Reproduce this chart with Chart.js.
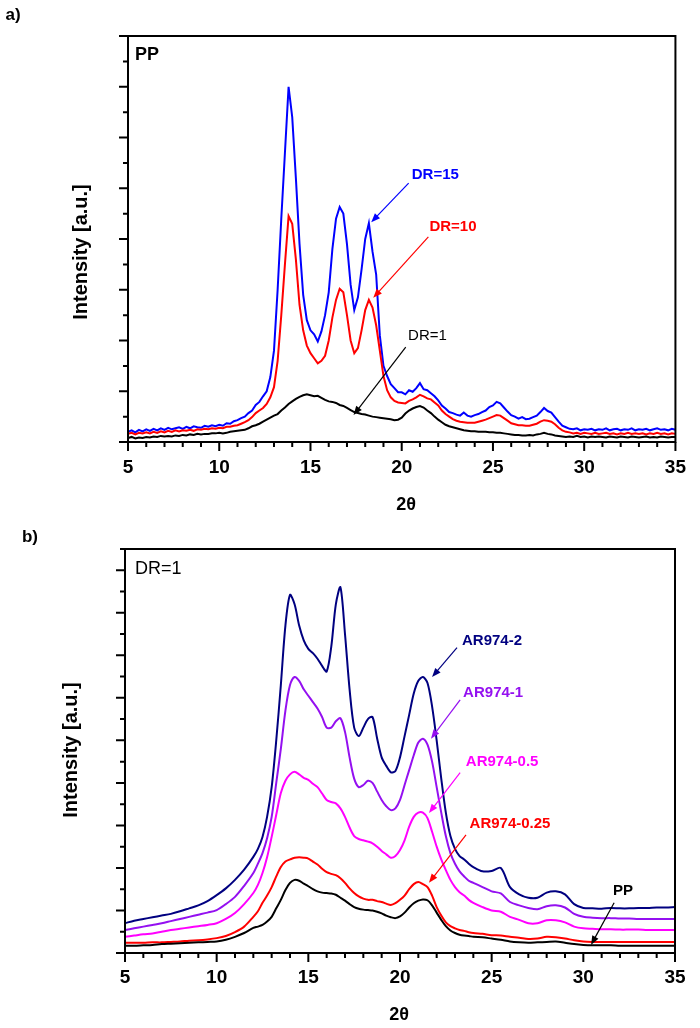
<!DOCTYPE html>
<html>
<head>
<meta charset="utf-8">
<title>XRD patterns</title>
<script src="https://cdn.jsdelivr.net/npm/chart.js@4.4.1/dist/chart.umd.min.js"></script>
<style>
  body { margin: 0; background: #fff; }
  #page { position: relative; width: 700px; height: 1028px; background: #fff; }
  canvas { position: absolute; left: 0; }
</style>
</head>
<body>
<div id="page">
  <canvas id="chartA" width="700" height="520" style="top:0"></canvas>
  <canvas id="chartB" width="700" height="508" style="top:520px"></canvas>
</div>
<script>
var FONT = "'Liberation Sans', Arial, sans-serif";

// ---- panel a) : PP at different draw ratios ----
var anglesA = [
  5, 5.2, 5.4, 5.6, 5.8, 6, 6.2, 6.4, 6.6, 6.8,
  7, 7.2, 7.4, 7.6, 7.8, 8, 8.2, 8.4, 8.6, 8.8,
  9, 9.2, 9.4, 9.6, 9.8, 10, 10.2, 10.4, 10.6, 10.8,
  11, 11.2, 11.4, 11.6, 11.8, 12, 12.2, 12.4, 12.6, 12.8,
  13, 13.2, 13.4, 13.6, 13.8, 14, 14.2, 14.4, 14.6, 14.8,
  15, 15.2, 15.4, 15.6, 15.8, 16, 16.2, 16.4, 16.6, 16.8,
  17, 17.2, 17.4, 17.6, 17.8, 18, 18.2, 18.4, 18.6, 18.8,
  19, 19.2, 19.4, 19.6, 19.8, 20, 20.2, 20.4, 20.6, 20.8,
  21, 21.2, 21.4, 21.6, 21.8, 22, 22.2, 22.4, 22.6, 22.8,
  23, 23.2, 23.4, 23.6, 23.8, 24, 24.2, 24.4, 24.6, 24.8,
  25, 25.2, 25.4, 25.6, 25.8, 26, 26.2, 26.4, 26.6, 26.8,
  27, 27.2, 27.4, 27.6, 27.8, 28, 28.2, 28.4, 28.6, 28.8,
  29, 29.2, 29.4, 29.6, 29.8, 30, 30.2, 30.4, 30.6, 30.8,
  31, 31.2, 31.4, 31.6, 31.8, 32, 32.2, 32.4, 32.6, 32.8,
  33, 33.2, 33.4, 33.6, 33.8, 34, 34.2, 34.4, 34.6, 34.8,
  35
];
var dr15 = [
  0.20, 0.23, 0.19, 0.24, 0.21, 0.25, 0.22, 0.26, 0.23, 0.27,
  0.24, 0.28, 0.25, 0.27, 0.29, 0.26, 0.30, 0.27, 0.31, 0.29,
  0.28, 0.32, 0.30, 0.33, 0.31, 0.34, 0.32, 0.37, 0.36, 0.41,
  0.43, 0.47, 0.50, 0.57, 0.62, 0.73, 0.79, 0.90, 1.00, 1.28,
  1.80, 3.00, 4.40, 5.70, 7.00, 6.40, 5.20, 3.90, 2.90, 2.40,
  2.20, 2.12, 1.98, 2.18, 2.50, 2.95, 3.80, 4.40, 4.63, 4.50,
  3.90, 3.10, 2.60, 2.85, 3.40, 4.00, 4.31, 3.75, 3.30, 2.10,
  1.50, 1.30, 1.14, 1.06, 0.98, 0.98, 0.94, 1.02, 0.99, 1.06,
  1.16, 1.04, 1.02, 0.96, 0.90, 0.82, 0.72, 0.66, 0.59, 0.57,
  0.54, 0.52, 0.58, 0.52, 0.50, 0.53, 0.55, 0.59, 0.62, 0.69,
  0.72, 0.79, 0.76, 0.68, 0.60, 0.53, 0.50, 0.46, 0.49, 0.45,
  0.46, 0.49, 0.52, 0.59, 0.67, 0.61, 0.58, 0.49, 0.40, 0.32,
  0.29, 0.26, 0.25, 0.27, 0.23, 0.25, 0.24, 0.26, 0.23, 0.25,
  0.24, 0.27, 0.23, 0.25, 0.26, 0.23, 0.25, 0.24, 0.27, 0.23,
  0.25, 0.24, 0.26, 0.23, 0.25, 0.27, 0.24, 0.25, 0.23, 0.26,
  0.24
];
var dr10 = [
  0.16, 0.18, 0.15, 0.18, 0.17, 0.19, 0.17, 0.20, 0.18, 0.21,
  0.19, 0.22, 0.20, 0.23, 0.21, 0.23, 0.22, 0.24, 0.22, 0.25,
  0.24, 0.26, 0.25, 0.27, 0.26, 0.28, 0.27, 0.30, 0.30, 0.32,
  0.33, 0.36, 0.39, 0.43, 0.49, 0.57, 0.62, 0.67, 0.75, 0.88,
  1.08, 1.60, 2.50, 3.50, 4.45, 4.30, 3.60, 2.70, 2.20, 1.90,
  1.75, 1.65, 1.55, 1.60, 1.70, 2.00, 2.45, 2.80, 3.02, 2.95,
  2.50, 2.00, 1.75, 1.85, 2.20, 2.60, 2.80, 2.65, 2.30, 1.80,
  1.30, 1.02, 0.88, 0.81, 0.78, 0.77, 0.76, 0.81, 0.84, 0.88,
  0.93, 0.90, 0.86, 0.84, 0.78, 0.72, 0.62, 0.55, 0.50, 0.45,
  0.42, 0.40, 0.39, 0.38, 0.38, 0.38, 0.40, 0.42, 0.44, 0.47,
  0.50, 0.53, 0.52, 0.47, 0.42, 0.37, 0.35, 0.33, 0.33, 0.32,
  0.32, 0.34, 0.36, 0.40, 0.43, 0.42, 0.40, 0.35, 0.28, 0.23,
  0.20, 0.19, 0.17, 0.18, 0.16, 0.18, 0.17, 0.16, 0.18, 0.16,
  0.17, 0.18, 0.16, 0.17, 0.15, 0.17, 0.16, 0.18, 0.16, 0.17,
  0.16, 0.17, 0.15, 0.17, 0.16, 0.18, 0.16, 0.17, 0.15, 0.17,
  0.16
];
var dr1 = [
  0.08, 0.10, 0.07, 0.09, 0.08, 0.10, 0.09, 0.11, 0.10, 0.12,
  0.11, 0.12, 0.11, 0.13, 0.12, 0.14, 0.13, 0.15, 0.14, 0.16,
  0.15, 0.16, 0.16, 0.17, 0.17, 0.18, 0.17, 0.18, 0.20, 0.21,
  0.22, 0.23, 0.24, 0.27, 0.31, 0.33, 0.36, 0.40, 0.44, 0.48,
  0.52, 0.55, 0.62, 0.68, 0.75, 0.80, 0.85, 0.89, 0.92, 0.94,
  0.92, 0.90, 0.91, 0.87, 0.83, 0.80, 0.79, 0.77, 0.73, 0.71,
  0.67, 0.63, 0.59, 0.57, 0.55, 0.54, 0.52, 0.50, 0.49, 0.48,
  0.47, 0.46, 0.45, 0.43, 0.44, 0.48, 0.56, 0.62, 0.66, 0.69,
  0.71, 0.68, 0.62, 0.57, 0.50, 0.44, 0.39, 0.34, 0.31, 0.29,
  0.27, 0.25, 0.23, 0.22, 0.21, 0.21, 0.20, 0.20, 0.20, 0.19,
  0.19, 0.18, 0.18, 0.17, 0.16, 0.15, 0.14, 0.14, 0.13, 0.13,
  0.14, 0.13, 0.15, 0.16, 0.18, 0.16, 0.15, 0.13, 0.12, 0.11,
  0.10, 0.11, 0.10, 0.12, 0.10, 0.11, 0.09, 0.11, 0.10, 0.11,
  0.10, 0.09, 0.11, 0.10, 0.09, 0.11, 0.10, 0.09, 0.11, 0.10,
  0.09, 0.10, 0.11, 0.09, 0.10, 0.09, 0.11, 0.10, 0.09, 0.10,
  0.10
];

// ---- panel b) : DR=1, PP and AR974 loadings ----
var anglesB = [
  5, 5.5, 6, 6.5, 7, 7.5, 8, 8.5, 9, 9.5,
  10, 10.5, 11, 11.5, 12, 12.25, 12.5, 12.75, 13, 13.25,
  13.5, 13.75, 14, 14.25, 14.5, 14.75, 15, 15.25, 15.5, 15.75,
  16, 16.25, 16.5, 16.75, 17, 17.25, 17.5, 17.75, 18, 18.25,
  18.5, 18.75, 19, 19.25, 19.5, 19.75, 20, 20.25, 20.5, 20.75,
  21, 21.25, 21.5, 21.75, 22, 22.25, 22.5, 22.75, 23, 23.25,
  23.5, 23.75, 24, 24.5, 25, 25.5, 26, 26.5, 27, 27.5,
  28, 28.5, 29, 29.5, 30, 30.5, 31, 31.5, 32, 32.5,
  33, 33.5, 34, 34.5, 35
];
var ar2 = [
  0.70, 0.76, 0.80, 0.84, 0.88, 0.92, 0.98, 1.05, 1.12, 1.22,
  1.36, 1.52, 1.72, 1.96, 2.26, 2.45, 2.73, 3.20, 3.90, 5.00,
  6.30, 7.70, 8.42, 8.20, 7.70, 7.35, 7.15, 7.05, 6.92, 6.75,
  6.62, 7.20, 8.20, 8.60, 7.50, 6.20, 5.30, 5.10, 5.30, 5.50,
  5.55, 5.05, 4.60, 4.40, 4.25, 4.28, 4.60, 5.10, 5.60, 6.10,
  6.40, 6.49, 6.35, 5.80, 5.00, 4.10, 3.30, 2.75, 2.45, 2.28,
  2.20, 2.10, 2.02, 1.92, 1.93, 2.00, 1.55, 1.38, 1.30, 1.30,
  1.42, 1.45, 1.38, 1.15, 1.06, 1.05, 1.04, 1.06, 1.05, 1.05,
  1.06, 1.06, 1.07, 1.07, 1.08
];
var ar1 = [
  0.54, 0.58, 0.62, 0.66, 0.70, 0.75, 0.80, 0.85, 0.90, 0.95,
  1.01, 1.15, 1.32, 1.58, 1.88, 2.10, 2.35, 2.70, 3.20, 4.00,
  4.80, 5.70, 6.30, 6.49, 6.40, 6.20, 6.05, 5.90, 5.75, 5.55,
  5.30, 5.30, 5.45, 5.52, 5.20, 4.60, 4.10, 3.90, 3.95, 4.05,
  4.00, 3.80, 3.60, 3.45, 3.36, 3.40, 3.60, 3.95, 4.30, 4.65,
  4.95, 5.04, 4.90, 4.50, 3.90, 3.30, 2.75, 2.35, 2.10, 1.92,
  1.80, 1.70, 1.65, 1.55, 1.45, 1.40, 1.20, 1.12, 1.06, 1.03,
  1.10, 1.12, 1.07, 0.92, 0.85, 0.83, 0.82, 0.82, 0.81, 0.81,
  0.80, 0.80, 0.80, 0.80, 0.80
];
var ar05 = [
  0.38, 0.41, 0.44, 0.46, 0.50, 0.54, 0.57, 0.60, 0.63, 0.66,
  0.70, 0.80, 0.94, 1.15, 1.41, 1.60, 1.88, 2.25, 2.73, 3.25,
  3.76, 4.05, 4.20, 4.26, 4.20, 4.12, 4.07, 3.98, 3.90, 3.75,
  3.60, 3.55, 3.52, 3.40, 3.20, 2.95, 2.75, 2.68, 2.65, 2.62,
  2.58, 2.50, 2.40, 2.32, 2.24, 2.28, 2.42, 2.65, 2.97, 3.20,
  3.30, 3.30, 3.17, 2.85, 2.50, 2.20, 1.95, 1.72, 1.55, 1.43,
  1.35, 1.25, 1.18, 1.08, 1.00, 0.97, 0.85, 0.78, 0.70, 0.70,
  0.77, 0.77, 0.72, 0.62, 0.58, 0.57, 0.56, 0.56, 0.55, 0.55,
  0.55, 0.54, 0.54, 0.54, 0.54
];
var ar025 = [
  0.24, 0.24, 0.24, 0.25, 0.25, 0.26, 0.27, 0.29, 0.30, 0.32,
  0.35, 0.40, 0.49, 0.62, 0.85, 0.98, 1.18, 1.35, 1.55, 1.80,
  2.02, 2.15, 2.20, 2.24, 2.25, 2.24, 2.22, 2.15, 2.08, 1.98,
  1.90, 1.86, 1.83, 1.76, 1.65, 1.52, 1.41, 1.33, 1.28, 1.25,
  1.25, 1.22, 1.20, 1.16, 1.13, 1.17, 1.25, 1.35, 1.50, 1.62,
  1.67, 1.62, 1.55, 1.35, 1.08, 0.88, 0.72, 0.63, 0.58, 0.54,
  0.52, 0.49, 0.47, 0.45, 0.42, 0.41, 0.38, 0.36, 0.33, 0.34,
  0.38, 0.37, 0.34, 0.30, 0.27, 0.26, 0.26, 0.26, 0.26, 0.26,
  0.26, 0.26, 0.26, 0.26, 0.26
];
var ppB = [
  0.17, 0.17, 0.18, 0.19, 0.21, 0.22, 0.23, 0.24, 0.25, 0.26,
  0.27, 0.31, 0.38, 0.47, 0.59, 0.62, 0.66, 0.74, 0.85, 1.05,
  1.25, 1.48, 1.65, 1.72, 1.70, 1.63, 1.57, 1.50, 1.45, 1.42,
  1.41, 1.40, 1.37, 1.30, 1.23, 1.15, 1.08, 1.04, 1.02, 1.01,
  1.00, 0.97, 0.93, 0.88, 0.84, 0.82, 0.86, 0.95, 1.07, 1.17,
  1.23, 1.26, 1.24, 1.12, 0.95, 0.78, 0.63, 0.53, 0.47, 0.43,
  0.41, 0.40, 0.38, 0.37, 0.34, 0.31, 0.27, 0.25, 0.24, 0.25,
  0.26, 0.27, 0.24, 0.21, 0.19, 0.18, 0.18, 0.18, 0.17, 0.17,
  0.17, 0.17, 0.17, 0.17, 0.17
];

// tick labels shared by both x axes
var xTickValues = [5, 10, 15, 20, 25, 30, 35];
var xTickLabels = ["5", "10", "15", "20", "25", "30", "35"];

function toPoints(xs, ys) {
  return xs.map(function (x, i) {
    return { x: x, y: ys[i] };
  });
}

function drawArrow(ctx, x1, y1, x2, y2, color) {
  var ang = Math.atan2(y2 - y1, x2 - x1);
  var head = 9, half = 3.5;
  var cs = Math.cos(ang), sn = Math.sin(ang);
  ctx.strokeStyle = color;
  ctx.fillStyle = color;
  ctx.lineWidth = 1.2;
  ctx.beginPath();
  ctx.moveTo(x1, y1);
  ctx.lineTo(x2 - cs * head * 0.7, y2 - sn * head * 0.7);
  ctx.stroke();
  ctx.beginPath();
  ctx.moveTo(x2, y2);
  ctx.lineTo(x2 - head * cs + half * sn, y2 - head * sn - half * cs);
  ctx.lineTo(x2 - head * cs - half * sn, y2 - head * sn + half * cs);
  ctx.closePath();
  ctx.fill();
}

// frame, minor/major ticks, titles and arrow labels
function makeDecor(cfg) {
  return {
    id: "decor",
    afterDraw: function (chart) {
      var ctx = chart.ctx;
      var area = chart.chartArea;
      var xs = chart.scales.x, ys = chart.scales.y;
      ctx.save();
      ctx.strokeStyle = "#000";
      ctx.lineWidth = 2;
      ctx.strokeRect(area.left, area.top, area.right - area.left, area.bottom - area.top);

      ctx.beginPath();
      for (var v = xs.min; v <= xs.max; v++) {
        var px = xs.getPixelForValue(v);
        var len = v % 5 === 0 ? 9 : 5;
        ctx.moveTo(px, area.bottom);
        ctx.lineTo(px, area.bottom + len);
      }
      for (var k = 0; k <= ys.max * 2; k++) {
        var py = ys.getPixelForValue(k / 2);
        var ylen = k % 2 === 0 ? 9 : 5;
        ctx.moveTo(area.left - ylen, py);
        ctx.lineTo(area.left, py);
      }
      ctx.stroke();

      ctx.fillStyle = "#000";
      ctx.textBaseline = "middle";
      // panel letter
      ctx.font = "bold 17px " + FONT;
      ctx.textAlign = "center";
      ctx.fillText(cfg.letter, cfg.letterX, cfg.letterY);
      // axis titles
      ctx.font = "bold 18px " + FONT;
      ctx.fillText("2\u03B8", cfg.xTitleX, cfg.xTitleY);
      ctx.save();
      ctx.translate(cfg.yTitleX, cfg.yTitleY);
      ctx.rotate(-Math.PI / 2);
      ctx.font = "bold 20px " + FONT;
      ctx.fillText("Intensity [a.u.]", 0, 0);
      ctx.restore();
      // corner label
      ctx.textAlign = "left";
      ctx.font = cfg.cornerFont + " " + FONT;
      ctx.fillText(cfg.corner, area.left + cfg.cornerDx, area.top + cfg.cornerDy);

      // arrow labels, given in data units
      cfg.notes.forEach(function (n) {
        ctx.font = n.font + " " + FONT;
        ctx.textAlign = "center";
        ctx.fillStyle = n.color;
        ctx.fillText(n.text, xs.getPixelForValue(n.x), ys.getPixelForValue(n.y));
        drawArrow(ctx,
          xs.getPixelForValue(n.ax1), ys.getPixelForValue(n.ay1),
          xs.getPixelForValue(n.ax2), ys.getPixelForValue(n.ay2), n.color);
      });
      ctx.restore();
    }
  };
}

function makeOptions(cfg) {
  return {
    responsive: false,
    animation: false,
    devicePixelRatio: 1,
    layout: { padding: { top: cfg.padTop, right: cfg.padRight, left: 0, bottom: 0 } },
    plugins: { legend: { display: false }, tooltip: { enabled: false } },
    elements: { point: { radius: 0 } },
    scales: {
      x: {
        type: "linear",
        min: 5,
        max: 35,
        afterBuildTicks: function (scale) {
          scale.ticks = xTickValues.map(function (v) { return { value: v }; });
        },
        afterFit: function (scale) { scale.height = cfg.xHeight; },
        grid: { display: false, drawTicks: false },
        border: { display: false },
        ticks: {
          color: "#000",
          padding: cfg.tickPad,
          maxRotation: 0,
          autoSkip: false,
          font: { family: FONT, size: 19, weight: "bold" },
          callback: function (value) {
            return xTickLabels[xTickValues.indexOf(value)];
          }
        }
      },
      y: {
        min: 0,
        max: cfg.yMax,
        afterFit: function (scale) { scale.width = cfg.yWidth; },
        grid: { display: false, drawTicks: false },
        border: { display: false },
        ticks: { display: false }
      }
    }
  };
}

function lineSet(label, xs, ys, color, tension) {
  return {
    label: label,
    data: toPoints(xs, ys),
    borderColor: color,
    borderWidth: 2,
    fill: false,
    tension: tension
  };
}

new Chart(document.getElementById("chartA"), {
  type: "line",
  data: {
    datasets: [
      lineSet("DR=1", anglesA, dr1, "#000000", 0),
      lineSet("DR=10", anglesA, dr10, "#ff0000", 0),
      lineSet("DR=15", anglesA, dr15, "#0000ff", 0)
    ]
  },
  options: makeOptions({ padTop: 36, padRight: 16, xHeight: 78, yWidth: 128, yMax: 8, tickPad: 14 }),
  plugins: [makeDecor({
    letter: "a)", letterX: 13, letterY: 15,
    xTitleX: 406, xTitleY: 505,
    yTitleX: 81, yTitleY: 252,
    corner: "PP", cornerFont: "bold 18px", cornerDx: 7, cornerDy: 19,
    notes: [
      { text: "DR=15", color: "#0000ff", font: "bold 15px", x: 21.84, y: 5.26, ax1: 20.38, ay1: 5.10, ax2: 18.33, ay2: 4.33 },
      { text: "DR=10", color: "#ff0000", font: "bold 15px", x: 22.81, y: 4.24, ax1: 21.46, ay1: 4.04, ax2: 18.44, ay2: 2.84 },
      { text: "DR=1", color: "#000000", font: "15px", x: 21.41, y: 2.09, ax1: 20.22, ay1: 1.87, ax2: 17.36, ay2: 0.53 }
    ]
  })]
});

new Chart(document.getElementById("chartB"), {
  type: "line",
  data: {
    datasets: [
      lineSet("PP", anglesB, ppB, "#000000", 0.3),
      lineSet("AR974-0.25", anglesB, ar025, "#ff0000", 0.3),
      lineSet("AR974-0.5", anglesB, ar05, "#ff00ff", 0.3),
      lineSet("AR974-1", anglesB, ar1, "#9410f0", 0.3),
      lineSet("AR974-2", anglesB, ar2, "#000080", 0.3)
    ]
  },
  options: makeOptions({ padTop: 29, padRight: 25, xHeight: 75, yWidth: 125, yMax: 9.5, tickPad: 13 }),
  plugins: [makeDecor({
    letter: "b)", letterX: 30, letterY: 17,
    xTitleX: 399, xTitleY: 495,
    yTitleX: 71, yTitleY: 230,
    corner: "DR=1", cornerFont: "18px", cornerDx: 10, cornerDy: 20,
    notes: [
      { text: "AR974-2", color: "#000080", font: "bold 15px", x: 25.02, y: 7.34, ax1: 23.11, ay1: 7.18, ax2: 21.75, ay2: 6.49 },
      { text: "AR974-1", color: "#9410f0", font: "bold 15px", x: 25.08, y: 6.12, ax1: 23.28, ay1: 5.95, ax2: 21.69, ay2: 5.04 },
      { text: "AR974-0.5", color: "#ff00ff", font: "bold 15px", x: 25.57, y: 4.49, ax1: 23.28, ay1: 4.24, ax2: 21.58, ay2: 3.29 },
      { text: "AR974-0.25", color: "#ff0000", font: "bold 15px", x: 26.0, y: 3.04, ax1: 23.6, ay1: 2.78, ax2: 21.58, ay2: 1.65 },
      { text: "PP", color: "#000000", font: "bold 15px", x: 32.17, y: 1.46, ax1: 31.68, ay1: 1.18, ax2: 30.42, ay2: 0.19 }
    ]
  })]
});
</script>
</body>
</html>
